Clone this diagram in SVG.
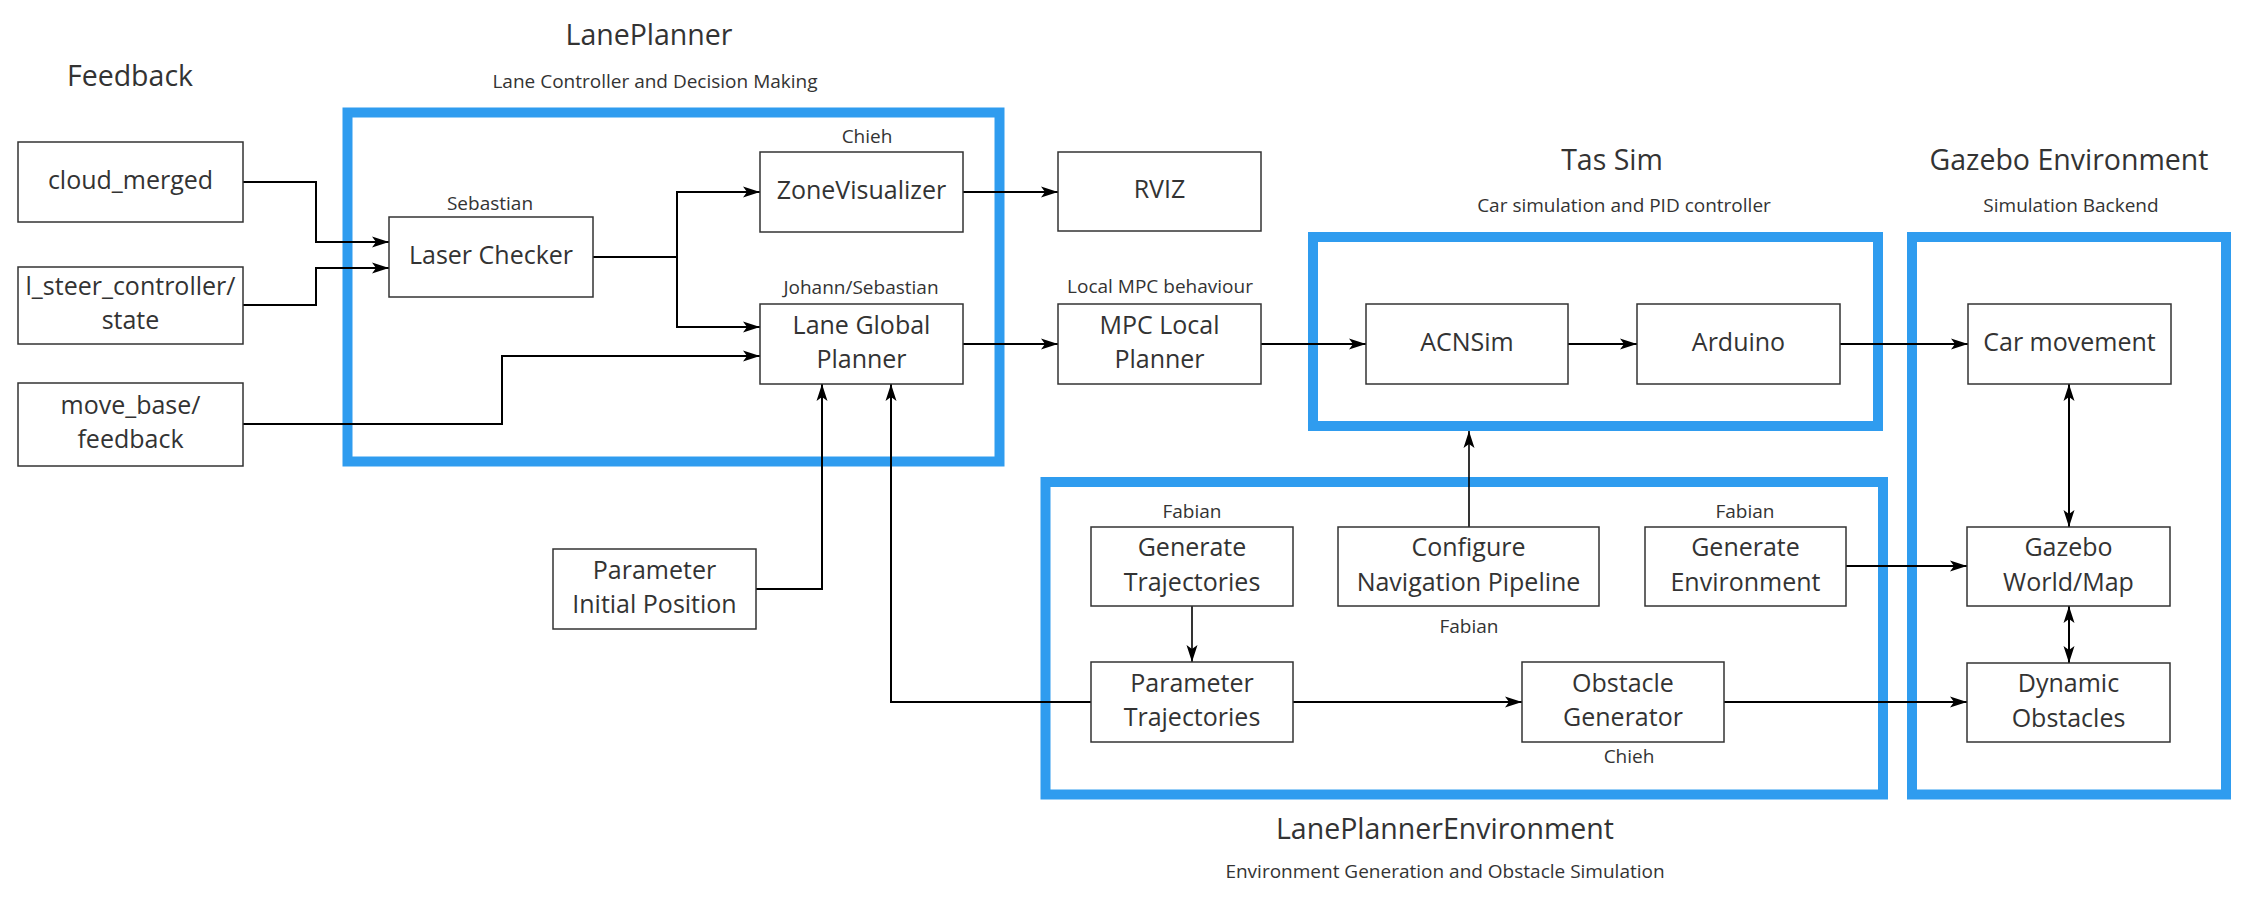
<svg xmlns="http://www.w3.org/2000/svg" width="2255" height="909" viewBox="0 0 2255 909">
<style>
text{font-family:"Open Sans","Liberation Sans",sans-serif;fill:#333333;text-anchor:middle}
.t{font-size:28.5px}
.s{font-size:19px}
.n{font-size:25px}
.box{fill:#ffffff;stroke:#333333;stroke-width:1.5}
.grp{fill:none;stroke:#2F9CEF;stroke-width:10}
.c{fill:none;stroke:#000000;stroke-width:2}
.c2{fill:none;stroke:#000000;stroke-width:1.6}
</style>
<defs>
<marker id="arr" markerUnits="userSpaceOnUse" markerWidth="18" markerHeight="12" refX="17" refY="6" orient="auto-start-reverse">
<path d="M0,0.5 L17,6 L0,11.5 L4,6 Z" fill="#000000"/>
</marker>
</defs>
<rect width="2255" height="909" fill="#ffffff"/>

<g id="containers">
<g id="lane-planner"><rect class="grp" x="347.5" y="112.5" width="652" height="349"/>
<text class="t" x="649" y="45">LanePlanner</text>
<text class="s" x="655" y="88">Lane Controller and Decision Making</text></g>
<g id="tas-sim"><rect class="grp" x="1313" y="237" width="565" height="189"/>
<text class="t" x="1612" y="170">Tas Sim</text>
<text class="s" x="1624" y="212">Car simulation and PID controller</text></g>
<g id="gazebo-env"><rect class="grp" x="1912" y="237" width="314" height="557.5"/>
<text class="t" x="2069" y="170">Gazebo Environment</text>
<text class="s" x="2071" y="212">Simulation Backend</text></g>
<g id="lane-planner-env"><rect class="grp" x="1045.5" y="482" width="837.5" height="312.5"/>
<text class="t" x="1445" y="839">LanePlannerEnvironment</text>
<text class="s" x="1445" y="878">Environment Generation and Obstacle Simulation</text></g>
<g id="feedback-title"><text class="t" x="130" y="86">Feedback</text></g>
</g>

<g id="connectors">
<path class="c" d="M243,182 H316 V242 H389" marker-end="url(#arr)"/>
<path class="c" d="M243,305 H316 V268 H389" marker-end="url(#arr)"/>
<path class="c" d="M243,424 H502 V356 H760" marker-end="url(#arr)"/>
<path class="c" d="M593,257 H677 V192 H760" marker-end="url(#arr)"/>
<path class="c" d="M593,257 H677 V327 H760" marker-end="url(#arr)"/>
<path class="c" d="M963,192 H1058" marker-end="url(#arr)"/>
<path class="c" d="M963,344 H1058" marker-end="url(#arr)"/>
<path class="c" d="M1261,344 H1366" marker-end="url(#arr)"/>
<path class="c" d="M1568,344 H1637" marker-end="url(#arr)"/>
<path class="c" d="M1840,344 H1968" marker-end="url(#arr)"/>
<path class="c" d="M2069,384 V527" marker-start="url(#arr)" marker-end="url(#arr)"/>
<path class="c" d="M2069,606 V663" marker-start="url(#arr)" marker-end="url(#arr)"/>
<path class="c" d="M1846,566 H1967" marker-end="url(#arr)"/>
<path class="c" d="M1724,702 H1967" marker-end="url(#arr)"/>
<path class="c" d="M1293,702 H1522" marker-end="url(#arr)"/>
<path class="c2" d="M1192,606 V662" marker-end="url(#arr)"/>
<path class="c2" d="M1469,527 V431" marker-end="url(#arr)"/>
<path class="c" d="M756,589 H822 V384" marker-end="url(#arr)"/>
<path class="c" d="M1091,702 H891 V384" marker-end="url(#arr)"/>
</g>

<g id="cloud_merged"><rect class="box" x="18" y="142" width="225" height="80"/>
<text class="n" x="130.5" y="188.5">cloud_merged</text></g>
<g id="l_steer_controller_state"><rect class="box" x="18" y="267" width="225" height="77"/>
<text class="n" x="130.5" y="295">l_steer_controller/</text>
<text class="n" x="130.5" y="329">state</text></g>
<g id="move_base_feedback"><rect class="box" x="18" y="383" width="225" height="83"/>
<text class="n" x="130.5" y="414">move_base/</text>
<text class="n" x="130.5" y="448">feedback</text></g>

<g id="laser-checker"><rect class="box" x="389" y="217" width="204" height="80"/>
<text class="n" x="491" y="263.5">Laser Checker</text>
<text class="s" x="490" y="210">Sebastian</text></g>
<g id="zone-visualizer"><rect class="box" x="760" y="152" width="203" height="80"/>
<text class="n" x="861.5" y="198.5">ZoneVisualizer</text>
<text class="s" x="867" y="143">Chieh</text></g>
<g id="lane-global-planner"><rect class="box" x="760" y="304" width="203" height="80"/>
<text class="n" x="861.5" y="333.5">Lane Global</text>
<text class="n" x="861.5" y="367.5">Planner</text>
<text class="s" x="861" y="294">Johann/Sebastian</text></g>
<g id="rviz"><rect class="box" x="1058" y="152" width="203" height="79"/>
<text class="n" x="1159.5" y="198">RVIZ</text></g>
<g id="mpc-local-planner"><rect class="box" x="1058" y="304" width="203" height="80"/>
<text class="n" x="1159.5" y="333.5">MPC Local</text>
<text class="n" x="1159.5" y="367.5">Planner</text>
<text class="s" x="1160" y="293">Local MPC behaviour</text></g>
<g id="acnsim"><rect class="box" x="1366" y="304" width="202" height="80"/>
<text class="n" x="1467" y="350.5">ACNSim</text></g>
<g id="arduino"><rect class="box" x="1637" y="304" width="203" height="80"/>
<text class="n" x="1738.5" y="350.5">Arduino</text></g>
<g id="car-movement"><rect class="box" x="1968" y="304" width="203" height="80"/>
<text class="n" x="2069.5" y="350.5">Car movement</text></g>
<g id="gazebo-world-map"><rect class="box" x="1967" y="527" width="203" height="79"/>
<text class="n" x="2068.5" y="556">Gazebo</text>
<text class="n" x="2068.5" y="590.5">World/Map</text></g>
<g id="dynamic-obstacles"><rect class="box" x="1967" y="663" width="203" height="79"/>
<text class="n" x="2068.5" y="692">Dynamic</text>
<text class="n" x="2068.5" y="726.5">Obstacles</text></g>
<g id="generate-trajectories"><rect class="box" x="1091" y="527" width="202" height="79"/>
<text class="n" x="1192" y="556">Generate</text>
<text class="n" x="1192" y="590.5">Trajectories</text>
<text class="s" x="1192" y="518">Fabian</text></g>
<g id="configure-navigation-pipeline"><rect class="box" x="1338" y="527" width="261" height="79"/>
<text class="n" x="1468.5" y="556">Configure</text>
<text class="n" x="1468.5" y="590.5">Navigation Pipeline</text>
<text class="s" x="1469" y="633">Fabian</text></g>
<g id="generate-environment"><rect class="box" x="1645" y="527" width="201" height="79"/>
<text class="n" x="1745.5" y="556">Generate</text>
<text class="n" x="1745.5" y="590.5">Environment</text>
<text class="s" x="1745" y="518">Fabian</text></g>
<g id="parameter-trajectories"><rect class="box" x="1091" y="662" width="202" height="80"/>
<text class="n" x="1192" y="691.5">Parameter</text>
<text class="n" x="1192" y="725.5">Trajectories</text></g>
<g id="obstacle-generator"><rect class="box" x="1522" y="662" width="202" height="80"/>
<text class="n" x="1623" y="691.5">Obstacle</text>
<text class="n" x="1623" y="725.5">Generator</text>
<text class="s" x="1629" y="763">Chieh</text></g>
<g id="parameter-initial-position"><rect class="box" x="553" y="549" width="203" height="80"/>
<text class="n" x="654.5" y="578.5">Parameter</text>
<text class="n" x="654.5" y="612.5">Initial Position</text></g>
</svg>
